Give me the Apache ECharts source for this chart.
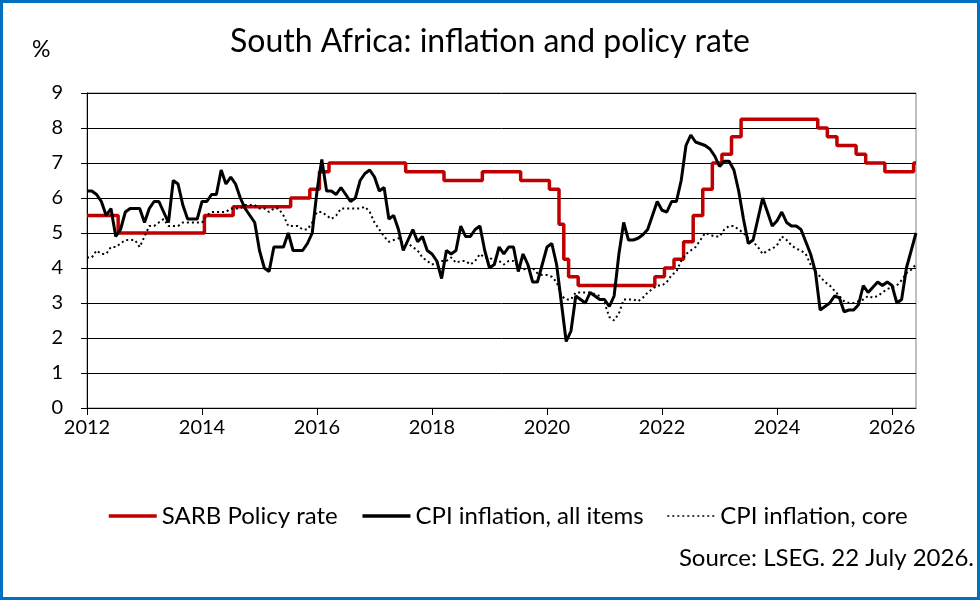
<!DOCTYPE html>
<html>
<head>
<meta charset="utf-8">
<title>South Africa: inflation and policy rate</title>
<script src="https://cdn.jsdelivr.net/npm/echarts@6/dist/echarts.min.js"></script>
<style>
html,body{margin:0;padding:0;background:#fff}
#c1{width:980px;height:600px}
</style>
</head>
<body>
<div id="c1"></div>
<script>
// monthly data, Jan 2012 .. Jun 2026
var startYear = 2012
var yearTicks = ['2012','2014','2016','2018','2020','2022','2024','2026']

// SARB repo rate in force at the start of each month
var policyRate = [
 5.5,5.5,5.5,5.5,5.5,5.5,5.5,5,5,5,5,5,
 5,5,5,5,5,5,5,5,5,5,5,5,
 5,5.5,5.5,5.5,5.5,5.5,5.5,5.75,5.75,5.75,5.75,5.75,
 5.75,5.75,5.75,5.75,5.75,5.75,5.75,6,6,6,6,6.25,
 6.25,6.75,6.75,7,7,7,7,7,7,7,7,7,
 7,7,7,7,7,7,7,6.75,6.75,6.75,6.75,6.75,
 6.75,6.75,6.75,6.5,6.5,6.5,6.5,6.5,6.5,6.5,6.5,6.75,
 6.75,6.75,6.75,6.75,6.75,6.75,6.75,6.5,6.5,6.5,6.5,6.5,
 6.5,6.25,6.25,5.25,4.25,3.75,3.75,3.5,3.5,3.5,3.5,3.5,
 3.5,3.5,3.5,3.5,3.5,3.5,3.5,3.5,3.5,3.5,3.5,3.75,
 3.75,4,4,4.25,4.25,4.75,4.75,5.5,5.5,6.25,6.25,7,
 7,7.25,7.25,7.75,7.75,8.25,8.25,8.25,8.25,8.25,8.25,8.25,
 8.25,8.25,8.25,8.25,8.25,8.25,8.25,8.25,8.25,8,8,7.75,
 7.75,7.5,7.5,7.5,7.5,7.25,7.25,7,7,7,7,6.75,
 6.75,6.75,6.75,6.75,6.75,7
]

var cpiAll = [
 6.2,6.2,6.1,5.9,5.5,5.7,4.9,5.1,5.6,5.7,5.7,5.7,
 5.3,5.7,5.9,5.9,5.6,5.3,6.5,6.4,5.8,5.4,5.4,5.4,
 5.9,5.9,6.1,6.1,6.8,6.4,6.6,6.4,6.0,5.7,5.5,5.3,
 4.5,4.0,3.9,4.6,4.6,4.6,5.0,4.5,4.5,4.5,4.7,5.0,
 6.2,7.1,6.2,6.2,6.1,6.3,6.1,5.9,6.0,6.5,6.7,6.8,
 6.6,6.2,6.3,5.4,5.5,5.1,4.5,4.8,5.1,4.75,4.9,4.5,
 4.4,4.2,3.7,4.5,4.4,4.5,5.2,4.9,4.9,5.1,5.2,4.5,
 4.0,4.1,4.6,4.4,4.6,4.6,3.9,4.4,4.1,3.6,3.6,4.1,
 4.6,4.7,4.1,3.0,1.9,2.2,3.2,3.1,3.0,3.3,3.2,3.1,
 3.1,2.9,3.2,4.4,5.3,4.8,4.8,4.85,4.95,5.1,5.5,5.9,
 5.65,5.6,5.9,5.9,6.5,7.5,7.8,7.6,7.55,7.5,7.4,7.2,
 6.9,7.05,7.05,6.8,6.2,5.4,4.7,4.8,5.4,6.0,5.6,5.2,
 5.35,5.6,5.3,5.2,5.2,5.1,4.75,4.4,3.9,2.8,2.9,3.0,
 3.2,3.15,2.75,2.8,2.8,2.95,3.5,3.3,3.45,3.6,3.5,3.6,
 3.5,3.0,3.1,4.0,4.5,5.0
]

var cpiCore = [
 4.3,4.3,4.5,4.4,4.4,4.6,4.6,4.7,4.8,4.8,4.8,4.6,
 4.9,5.2,5.2,5.3,5.4,5.2,5.2,5.2,5.3,5.3,5.3,5.3,
 5.3,5.5,5.6,5.6,5.6,5.6,5.7,5.7,5.7,5.8,5.8,5.8,
 5.7,5.7,5.6,5.7,5.7,5.5,5.2,5.2,5.2,5.1,5.1,5.3,
 5.6,5.6,5.5,5.4,5.5,5.7,5.7,5.7,5.7,5.7,5.75,5.6,
 5.3,5.1,4.9,4.75,4.8,4.85,4.7,4.7,4.6,4.5,4.3,4.2,
 4.1,4.15,4.2,4.2,4.3,4.15,4.2,4.2,4.1,4.2,4.4,4.3,
 4.3,4.2,4.2,4.1,4.2,4.2,4.05,3.95,4.0,4.0,3.85,3.8,
 3.8,3.75,3.6,3.2,3.1,3.1,3.3,3.3,3.3,3.3,3.25,3.2,
 3.0,2.6,2.5,2.7,3.1,3.1,3.1,3.05,3.15,3.3,3.4,3.5,
 3.5,3.6,3.8,3.9,4.2,4.4,4.5,4.6,4.8,5.0,4.95,4.9,
 4.9,5.1,5.2,5.2,5.1,5.0,4.85,4.75,4.6,4.4,4.5,4.55,
 4.65,4.9,4.8,4.65,4.55,4.5,4.4,4.1,3.9,3.75,3.6,3.5,
 3.35,3.2,3.05,3.0,3.0,3.05,3.1,3.2,3.15,3.2,3.3,3.4,
 3.45,3.5,3.65,3.85,3.95,4.1
]

var months = []
for (var i = 0; i < cpiAll.length; i++) {
  var m = i % 12 + 1
  months.push((startYear + Math.floor(i / 12)) + '-' + (m < 10 ? '0' + m : m))
}

var ff = 'Lato, "Noto Sans", sans-serif'
var myChart = echarts.init(document.getElementById('c1'), null, {renderer: 'canvas'})

option = {
  animation: false,
  backgroundColor: '#fff',
  title: {
    text: 'South Africa: inflation and policy rate',
    left: 'center',
    top: 21,
    textStyle: {fontFamily: ff, fontSize: 32, fontWeight: 'normal', color: '#000'}
  },
  legend: {
    left: 102,
    top: 499,
    itemWidth: 48,
    itemHeight: 12,
    itemGap: 23,
    itemStyle: {opacity: 0},
    textStyle: {fontFamily: ff, fontSize: 24, color: '#000'},
    data: [
      {name: 'SARB Policy rate', lineStyle: {width: 3.5}},
      {name: 'CPI inflation, all items', lineStyle: {width: 3.5}},
      {name: 'CPI inflation, core', lineStyle: {width: 1.5}}
    ]
  },
  grid: {
    left: 87, right: 64, top: 93, bottom: 192,
    show: true, borderColor: '#808080', borderWidth: 1
  },
  xAxis: {
    type: 'category',
    boundaryGap: false,
    data: months,
    axisLine: {lineStyle: {color: '#000', width: 1}},
    axisTick: {
      show: true, length: 7,
      interval: function (i) { return i % 24 === 0 },
      lineStyle: {color: '#000'}
    },
    axisLabel: {
      interval: function (i) { return i % 24 === 0 },
      formatter: function (v) {
        var y = v.slice(0, 4)
        return yearTicks.indexOf(y) >= 0 ? y : ''
      },
      fontFamily: ff, fontSize: 20, color: '#000', margin: 10
    },
    splitLine: {show: false}
  },
  yAxis: {
    type: 'value',
    min: 0, max: 9, interval: 1,
    axisLine: {show: true, lineStyle: {color: '#000', width: 1}},
    axisTick: {show: true, length: 6, lineStyle: {color: '#000'}},
    axisLabel: {fontFamily: ff, fontSize: 20, color: '#000', margin: 24},
    splitLine: {lineStyle: {color: '#000', width: 1}}
  },
  series: [{
    name: 'SARB Policy rate',
    type: 'line',
    step: 'middle',
    symbol: 'none',
    data: policyRate,
    lineStyle: {color: '#C00000', width: 3.5},
    itemStyle: {color: '#C00000'}
  }, {
    name: 'CPI inflation, all items',
    type: 'line',
    symbol: 'none',
    data: cpiAll,
    lineStyle: {color: '#000', width: 3},
    itemStyle: {color: '#000'}
  }, {
    name: 'CPI inflation, core',
    type: 'line',
    symbol: 'none',
    data: cpiCore,
    lineStyle: {color: '#000', width: 2, type: [2, 3]},
    itemStyle: {color: '#000'}
  }],
  graphic: [{
    type: 'rect',
    shape: {x: 1.5, y: 1.5, width: 977, height: 597},
    style: {fill: 'none', stroke: '#0070C0', lineWidth: 3},
    silent: true
  }, {
    type: 'text',
    left: 32, top: 38,
    style: {text: '%', fontFamily: ff, fontSize: 23, fill: '#000'}
  }, {
    type: 'text',
    right: 6, top: 546,
    style: {text: 'Source: LSEG. 22 July 2026.', fontFamily: ff, fontSize: 24, fill: '#000'}
  }]
}
myChart.setOption(option)
</script>
</body>
</html>
